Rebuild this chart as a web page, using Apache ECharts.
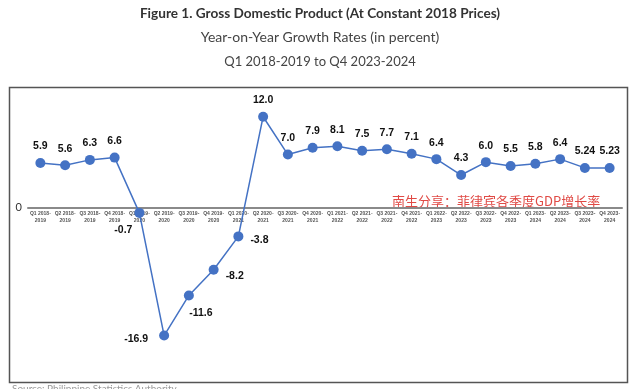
<!DOCTYPE html>
<html><head><meta charset="utf-8">
<script src="https://cdn.jsdelivr.net/npm/echarts@6/dist/echarts.min.js"></script>
<style>html,body{margin:0;padding:0;background:#fff}#c{width:640px;height:389px}</style>
</head><body><div id="c"></div>
<script>
const categories = ['Q1 2018-\n2019','Q2 2018-\n2019','Q3 2018-\n2019','Q4 2018-\n2019','Q1 2019-\n2020','Q2 2019-\n2020','Q3 2019-\n2020','Q4 2019-\n2020','Q1 2020-\n2021','Q2 2020-\n2021','Q3 2020-\n2021','Q4 2020-\n2021','Q1 2021-\n2022','Q2 2021-\n2022','Q3 2021-\n2022','Q4 2021-\n2022','Q1 2022-\n2023','Q2 2022-\n2023','Q3 2022-\n2023','Q4 2022-\n2023','Q1 2023-\n2024','Q2 2023-\n2024','Q3 2023-\n2024','Q4 2023-\n2024'];
const growth = [5.9,5.6,6.3,6.6,-0.7,-16.9,-11.6,-8.2,-3.8,12.0,7.0,7.9,8.1,7.5,7.7,7.1,6.4,4.3,6.0,5.5,5.8,6.4,5.24,5.23];
const valueLabels = ['5.9','5.6','6.3','6.6','-0.7','-16.9','-11.6','-8.2','-3.8','12.0','7.0','7.9','8.1','7.5','7.7','7.1','6.4','4.3','6.0','5.5','5.8','6.4','5.24','5.23'];
const yTicks = [0];
const yMin = 0, yMax = 15;

const labelStyle = {
  4: {position:'bottom', offset:[-16,2]},
  5: {position:'left', offset:[-6,4]},
  6: {position:'bottom', offset:[12,2]},
  7: {position:'right', offset:[2,6]},
  8: {position:'right', offset:[2,4]}
};
const data = growth.map((v,i)=>({
  value: v,
  label: Object.assign({formatter: valueLabels[i]}, labelStyle[i] || {position:'top', distance:6})
}));

const chart = echarts.init(document.getElementById('c'));
chart.setOption({
  animation:false,
  backgroundColor:'#fff',
  title:[
    {text:'Figure 1. Gross Domestic Product (At Constant 2018 Prices)', left:'center', top:2,
     textStyle:{fontFamily:'Lato', fontSize:13.6, fontWeight:'bold', color:'#333'}},
    {text:'Year-on-Year Growth Rates (in percent)', left:'center', top:25,
     textStyle:{fontFamily:'Lato', fontSize:14, fontWeight:'normal', color:'#444'}},
    {text:'Q1 2018-2019 to Q4 2023-2024', left:'center', top:50,
     textStyle:{fontFamily:'Lato', fontSize:13, fontWeight:'normal', color:'#444'}}
  ],
  graphic:[
    {type:'rect', shape:{x:9.5,y:87.5,width:618,height:295}, style:{fill:'none', stroke:'#555', lineWidth:1.5}, z:-1},
    {type:'text', left:392, top:195, style:{text:'南生分享：菲律宾各季度GDP增长率', fill:'#e04a45', font:'13px "Noto Sans CJK SC"'}},
    {type:'text', left:12, top:384, style:{text:'Source: Philippine Statistics Authority', fill:'#999', font:'10px Lato'}}
  ],
  grid:{left:28, right:18, top:94, height:113.6},
  xAxis:{
    type:'category', data:categories, boundaryGap:true,
    axisLine:{onZero:false, lineStyle:{color:'#8a8a8a', width:2}},
    axisTick:{show:false},
    axisLabel:{interval:0, fontSize:5, fontWeight:'bold', color:'#555', lineHeight:7, margin:3, fontFamily:'Liberation Sans'}
  },
  yAxis:{
    type:'value', min:yMin, max:yMax, interval:5,
    splitLine:{show:false}, axisLine:{show:false}, axisTick:{show:false},
    axisLabel:{formatter:v=> yTicks.includes(v)?String(v):'', fontSize:11, color:'#333', fontFamily:'Lato', margin:6}
  },
  series:[{
    type:'line', data:data, symbol:'circle', symbolSize:10, z:3, clip:false,
    itemStyle:{color:'#4472C4'}, lineStyle:{color:'#4472C4', width:1.5},
    label:{show:true, fontSize:10.5, fontWeight:'bold', color:'#111', fontFamily:'Liberation Sans'}
  }]
});
</script></body></html>
